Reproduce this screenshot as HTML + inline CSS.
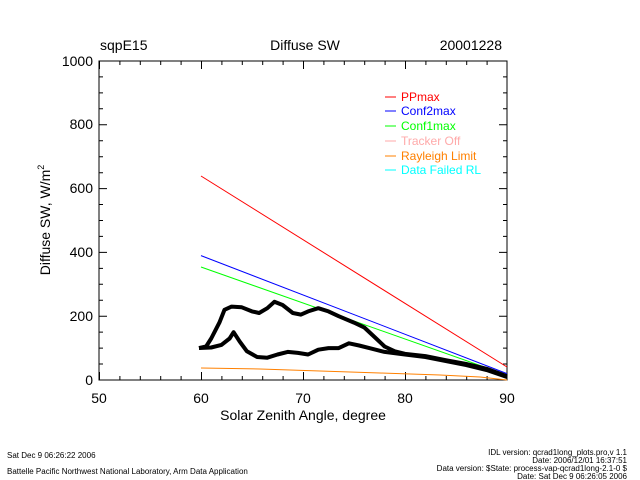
<!DOCTYPE html>
<html><head><style>
body{margin:0;background:#fff;}
svg{display:block;font-family:"Liberation Sans",sans-serif;}
</style></head><body>
<svg width="640" height="480" xmlns="http://www.w3.org/2000/svg">
<rect width="640" height="480" fill="#fff"/>
<g font-size="14" fill="#000">
<text x="100" y="50">sqpE15</text>
<text x="305" y="50" text-anchor="middle">Diffuse SW</text>
<text x="502" y="50" text-anchor="end">20001228</text>
</g>
<rect x="99" y="61" width="408" height="319" fill="none" stroke="#000" stroke-width="1"/>
<g stroke="#000" stroke-width="1">
<!-- x ticks -->
<path d="M99.5,380v-8M201.5,380v-8M303.5,380v-8M405.5,380v-8M99.5,61v8M201.5,61v8M303.5,61v8M405.5,61v8"/>
<path d="M119.9,380v-4M140.3,380v-4M160.7,380v-4M181.1,380v-4M221.9,380v-4M242.3,380v-4M262.7,380v-4M283.1,380v-4M323.9,380v-4M344.3,380v-4M364.7,380v-4M385.1,380v-4M425.9,380v-4M446.3,380v-4M466.7,380v-4M487.1,380v-4
M119.9,61v4M140.3,61v4M160.7,61v4M181.1,61v4M221.9,61v4M242.3,61v4M262.7,61v4M283.1,61v4M323.9,61v4M344.3,61v4M364.7,61v4M385.1,61v4M425.9,61v4M446.3,61v4M466.7,61v4M487.1,61v4"/>
<!-- y ticks -->
<path d="M99,316.2h8M99,252.4h8M99,188.6h8M99,124.8h8M507,316.2h-8M507,252.4h-8M507,188.6h-8M507,124.8h-8"/>
<path d="M99,364h4M99,348.1h4M99,332.1h4M99,300.3h4M99,284.3h4M99,268.4h4M99,236.4h4M99,220.5h4M99,204.5h4M99,172.7h4M99,156.7h4M99,140.8h4M99,108.8h4M99,92.9h4M99,76.9h4
M507,364h-4M507,348.1h-4M507,332.1h-4M507,300.3h-4M507,284.3h-4M507,268.4h-4M507,236.4h-4M507,220.5h-4M507,204.5h-4M507,172.7h-4M507,156.7h-4M507,140.8h-4M507,108.8h-4M507,92.9h-4M507,76.9h-4"/>
</g>
<g font-size="14" fill="#000">
<text x="99" y="403" text-anchor="middle">50</text>
<text x="201" y="403" text-anchor="middle">60</text>
<text x="303" y="403" text-anchor="middle">70</text>
<text x="405" y="403" text-anchor="middle">80</text>
<text x="507" y="403" text-anchor="middle">90</text>
<text x="93" y="385" text-anchor="end">0</text>
<text x="93" y="321" text-anchor="end">200</text>
<text x="93" y="257" text-anchor="end">400</text>
<text x="93" y="193" text-anchor="end">600</text>
<text x="93" y="129" text-anchor="end">800</text>
<text x="93" y="66" text-anchor="end">1000</text>
<text x="303" y="420" text-anchor="middle">Solar Zenith Angle, degree</text>
<text transform="translate(50,220) rotate(-90)" text-anchor="middle">Diffuse SW, W/m<tspan font-size="9" dy="-6">2</tspan></text>
</g>
<!-- series -->
<g fill="none" stroke-width="1">
<line x1="201" y1="176" x2="507" y2="367" stroke="#ff0000"/>
<line x1="201" y1="255.6" x2="507" y2="373.6" stroke="#0000ff"/>
<line x1="201" y1="267" x2="507" y2="375" stroke="#00ff00"/>
<polyline points="201,368 260,369 320,371 380,373 440,375 480,377 507,380" stroke="#ff8000"/>
</g>
<g fill="none" stroke="#000" stroke-width="4" stroke-linejoin="round">
<polyline points="199,348.1 206.1,346.5 211.2,338.5 219.4,322.6 224.5,309.8 231.6,306.6 241.8,307.3 252,311.4 259.1,313 267.3,308.2 274.4,301.8 282.6,305 292.8,313 301,314.6 308.1,311.4 318.3,308.2 328.5,311.4 338.7,316.2 354,322.6 364.2,327.4 374.4,336.9 384.6,346.5 394.8,351.3 405,353.8 425.4,356.1 445.8,360.2 466.2,364 486.6,368.8 507,376.2"/>
<polyline points="199,348 211.2,347.5 221.4,344.9 229.6,338.5 233.6,332.2 239.8,341.7 246.9,351.3 257.1,357 267.3,357.7 277.5,354.5 287.7,351.9 297.9,352.9 308.1,354.5 318.3,349.7 328.5,348.1 338.7,348.1 348.9,343.3 359.1,345.5 369.3,348.1 384.6,351.9 405,354.5 425.4,357 445.8,361 466.2,365 486.6,370 507,377"/>
</g>
<!-- legend -->
<g font-size="12" stroke-width="1">
<line x1="385" y1="97" x2="396" y2="97" stroke="#ff0000"/><text x="401" y="101" fill="#ff0000">PPmax</text>
<line x1="385" y1="111" x2="396" y2="111" stroke="#0000ff"/><text x="401" y="115" fill="#0000ff">Conf2max</text>
<line x1="385" y1="126" x2="396" y2="126" stroke="#00ff00"/><text x="401" y="130" fill="#00ff00">Conf1max</text>
<line x1="385" y1="141" x2="396" y2="141" stroke="#ffaaaa"/><text x="401" y="145" fill="#ffaaaa">Tracker Off</text>
<line x1="385" y1="156" x2="396" y2="156" stroke="#ff8000"/><text x="401" y="160" fill="#ff8000">Rayleigh Limit</text>
<line x1="385" y1="170" x2="396" y2="170" stroke="#00ffff"/><text x="401" y="174" fill="#00ffff">Data Failed RL</text>
</g>
<g font-size="8" fill="#000">
<text x="7" y="458">Sat Dec  9 06:26:22 2006</text>
<text x="7" y="474">Battelle Pacific Northwest National Laboratory, Arm Data Application</text>
<text x="627" y="455" text-anchor="end">IDL version: qcrad1long_plots.pro,v 1.1</text>
<text x="627" y="463" text-anchor="end">Date: 2006/12/01 16:37:51</text>
<text x="627" y="471" text-anchor="end">Data version: $State: process-vap-qcrad1long-2.1-0 $</text>
<text x="627" y="479" text-anchor="end">Date: Sat Dec  9 06:26:05 2006</text>
</g>
</svg>
</body></html>
